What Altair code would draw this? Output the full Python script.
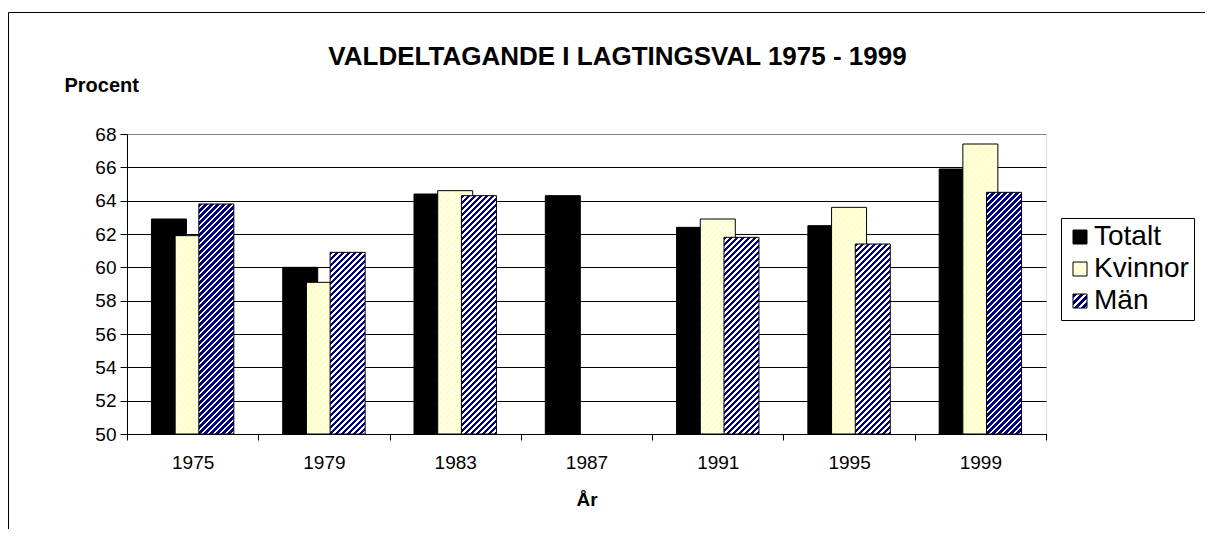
import altair as alt
import pandas as pd

# ---- data ----
years = ["1975", "1979", "1983", "1987", "1991", "1995", "1999"]
series = ["Totalt", "Kvinnor", "Män"]
totalt = [62.9, 60.0, 64.4, 64.3, 62.4, 62.5, 65.9]
kvinnor = [61.9, 59.1, 64.6, None, 62.9, 63.6, 67.4]
man = [63.8, 60.9, 64.3, None, 61.8, 61.4, 64.5]
y_ticks = [50, 52, 54, 56, 58, 60, 62, 64, 66, 68]

rows = []
for s, vals in zip(series, [totalt, kvinnor, man]):
    for yr, v in zip(years, vals):
        if v is not None:
            rows.append({"year": yr, "series": s, "value": v})
df = pd.DataFrame(rows)

# ---- layout / style ----
FONT = "Liberation Sans"
PLOT_W, PLOT_H = 919, 300
Y_MIN, Y_MAX = 50, 68
BAR_W = 35
STEP = 23.7


def hatch(w, h, base, stripe, period=6.0, frac=0.58):
    """Diagonal '/' stripes via a linear gradient in bounding-box units."""
    lam = (w + h) / (w * w + h * h)
    n = (w + h) / period
    stops = []
    k = 0
    while k / n < 1:
        a = round(k / n, 5)
        b = round(min((k + frac) / n, 1), 5)
        c = round(min((k + 1) / n, 1), 5)
        stops += [{"offset": a, "color": base}, {"offset": b, "color": base}]
        if b < 1:
            stops += [{"offset": b, "color": stripe}, {"offset": c, "color": stripe}]
        k += 1
    return {"gradient": "linear", "x1": 0, "y1": 0,
            "x2": round(lam * w, 5), "y2": round(lam * h, 5), "stops": stops}


def grad_expr(g):
    st = ",".join("{offset:%s,color:'%s'}" % (s["offset"], s["color"]) for s in g["stops"])
    return "{gradient:'linear',x1:%s,y1:%s,x2:%s,y2:%s,stops:[%s]}" % (
        g["x1"], g["y1"], g["x2"], g["y2"], st)


STYLE = {
    "Totalt": None,
    "Kvinnor": ("#FFFFC4", "#FFFFF2"),
    "Män": ("#000080", "#FFFFFF"),
}

fill_scale = alt.Scale(
    domain=series,
    range=[
        "#000000",
        {"expr": grad_expr(hatch(14, 14, "#FFFFC4", "#FFFFF2", period=7))},
        {"expr": grad_expr(hatch(14, 14, "#000080", "#FFFFFF", period=7))},
    ],
)

legend = alt.Legend(
    title=None, orient="none", legendX=934, legendY=84,
    strokeColor="#000000", fillColor="#FFFFFF", padding=5, cornerRadius=0,
    labelFont=FONT, labelFontSize=28, labelColor="#000000", labelOffset=0,
    symbolType="square", symbolSize=196, symbolStrokeColor="#000000",
    symbolStrokeWidth=1, rowPadding=4,
)

x_enc = alt.X(
    "year:N", sort=years,
    scale=alt.Scale(paddingInner=0, paddingOuter=0),
    axis=alt.Axis(
        title="År", tickBand="extent", labelAngle=0, tickSize=6,
        domainColor="#000000", tickColor="#000000", labelColor="#000000",
        labelFont=FONT, labelFontSize=19, labelPadding=13,
        titleFont=FONT, titleFontSize=19, titleFontWeight="bold",
        titleColor="#000000", titlePadding=18, grid=False,
    ),
)

y_enc = alt.Y(
    "value:Q",
    scale=alt.Scale(domain=[Y_MIN, Y_MAX], nice=False, zero=False),
    axis=alt.Axis(
        values=y_ticks, title="Procent", titleAngle=0, titleX=-63, titleY=-49,
        titleAlign="left", titleBaseline="middle", titleFont=FONT,
        titleFontSize=20, titleFontWeight="bold", titleColor="#000000",
        labelFont=FONT, labelFontSize=19, labelColor="#000000", labelPadding=4,
        tickSize=7, tickColor="#000000", domainColor="#000000",
        grid=True, gridWidth=1,
        gridColor={"condition": {"test": "datum.value === 68", "value": "#808080"},
                   "value": "#000000"},
    ),
)


def bar_layer(name, vals, offset):
    conds = []
    sty = STYLE[name]
    if sty is not None:
        for yr, v in zip(years, vals):
            if v is None:
                continue
            h = (v - Y_MIN) / (Y_MAX - Y_MIN) * PLOT_H
            conds.append({"test": "datum.year === '%s'" % yr,
                          "value": hatch(BAR_W, h, sty[0], sty[1])})
    kw = dict(scale=fill_scale, legend=legend)
    if conds:
        kw["condition"] = conds
    return (
        alt.Chart(df)
        .transform_filter(alt.datum.series == name)
        .mark_bar(width=BAR_W, xOffset=offset, stroke="#000000", strokeWidth=1)
        .encode(x=x_enc, y=y_enc, y2=alt.datum(Y_MIN),
                fill=alt.Fill("series:N", **kw))
    )


# outer chart frame: only its left and top edges fall inside the picture
frame_src = pd.DataFrame({"f": [0]})
frame_top = (
    alt.Chart(frame_src).mark_rule(color="#000000", strokeWidth=1)
    .encode(x=alt.value(-118.5), x2=alt.value(1078), y=alt.value(-121.5))
)
frame_left = (
    alt.Chart(frame_src).mark_rule(color="#000000", strokeWidth=1)
    .encode(x=alt.value(-118.5), y=alt.value(-121.5), y2=alt.value(395))
)

chart = (
    alt.layer(
        frame_top,
        frame_left,
        bar_layer("Totalt", totalt, -STEP),
        bar_layer("Kvinnor", kvinnor, 0),
        bar_layer("Män", man, STEP),
    )
    .properties(
        width=PLOT_W, height=PLOT_H,
        padding={"left": 119, "top": 126, "right": 159, "bottom": 95},
        autosize=alt.AutoSizeParams(type="none"),
        title=alt.TitleParams(
            "VALDELTAGANDE I LAGTINGSVAL 1975 - 1999",
            font=FONT, fontSize=26, fontWeight="bold", color="#000000",
            anchor="middle", frame="group", dx=31, baseline="middle", offset=-71,
        ),
    )
    .configure_view(stroke="#808080", strokeWidth=1)
    .configure(background="#FFFFFF")
)

chart.save("out.html", embed_options={"renderer": "svg", "actions": False})
